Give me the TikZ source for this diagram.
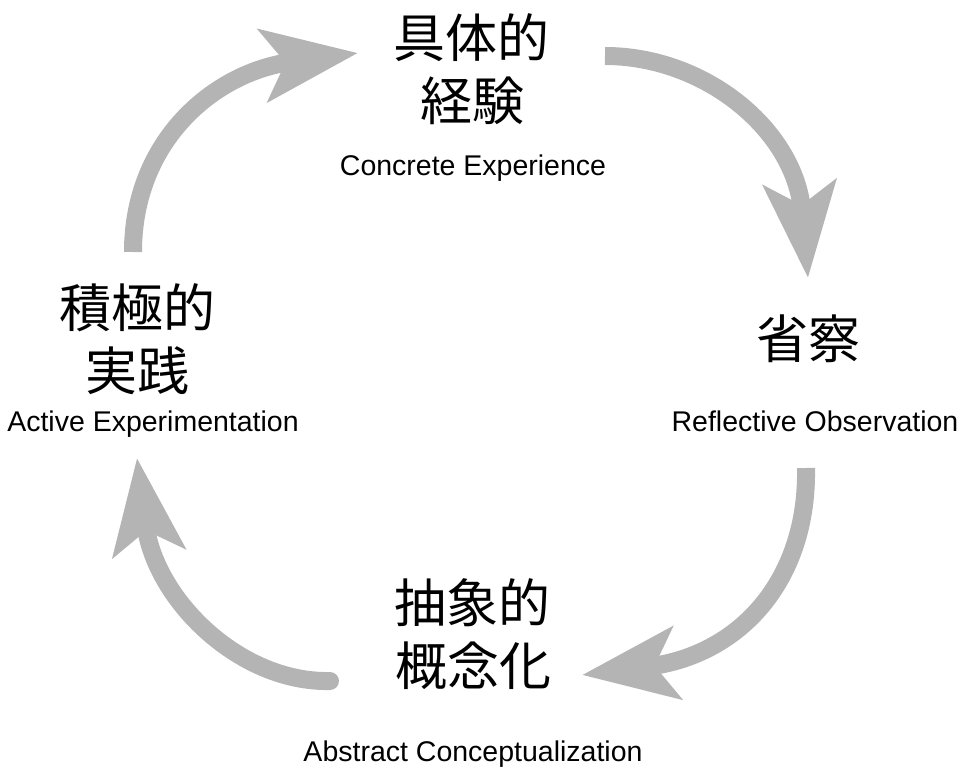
\documentclass[tikz,border=0pt]{standalone}
\usepackage{fontspec}
\setmainfont{Liberation Sans}
\newfontfamily\jpfont{Noto Sans CJK JP}
\usetikzlibrary{arrows.meta}
\definecolor{arrowgray}{RGB}{180,180,180}
\tikzset{
  jp/.style={font=\jpfont\fontsize{52}{60}\selectfont, inner sep=0pt},
  en/.style={font=\fontsize{28.5}{34}\selectfont, inner sep=0pt, anchor=base},
  cyc/.style={draw=arrowgray, line width=18pt,
    -{Stealth[length=95pt, width=72pt, inset=22pt, fill=arrowgray, color=arrowgray]}},
}
\begin{document}
\begin{tikzpicture}[x=1pt,y=-1pt]
\useasboundingbox (0,0) rectangle (964,767);
% labels
\node[jp] (ce1) at (471,38) {具体的};
\node[jp] (ce2) at (472,101) {経験};
\node[en] (ce3) at (473,176) {Concrete Experience};
\node[jp] (ro1) at (808,339) {省察};
\node[en] (ro2) at (815,431) {Reflective Observation};
\node[jp] (ac1) at (472,603) {抽象的};
\node[jp] (ac2) at (473,666) {概念化};
\node[en] (ac3) at (473,761) {Abstract Conceptualization};
\node[jp] (ae1) at (137,308) {積極的};
\node[jp] (ae2) at (137,371) {実践};
\node[en] (ae3) at (153,431) {Active Experimentation};
% arrow ends
\coordinate (a1s) at (133,252);
\coordinate (a1e) at (358,53);
\coordinate (a2s) at (605,56);
\coordinate (a2e) at (808,278);
\coordinate (a3s) at (806,468);
\coordinate (a3e) at (582,675);
\coordinate (a4s) at (330,681);
\coordinate (a4e) at (137,458);
% arrows
\draw[cyc] (a1s) .. controls (133,140) and (215,72) .. (a1e);
\draw[cyc] (a2s) .. controls (705,56) and (795,130) .. (a2e);
\draw[cyc] (a3s) .. controls (808,580) and (740,655) .. (a3e);
\draw[cyc, line cap=round] (a4s) .. controls (240,683) and (155,600) .. (a4e);
\end{tikzpicture}
\end{document}
